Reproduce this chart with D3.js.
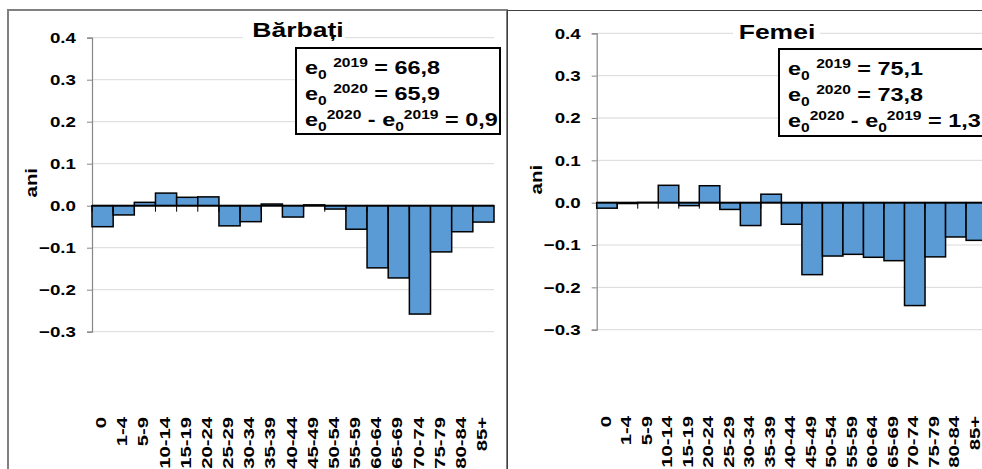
<!DOCTYPE html>
<html>
<head>
<meta charset="utf-8">
<script src="https://cdn.jsdelivr.net/npm/d3@7"></script>
<style>
  body { margin: 0; background: #fff; }
  text { font-family: "Liberation Sans", Arial, sans-serif; font-weight: bold; fill: #000; }
</style>
</head>
<body>
<div id="vis-container"></div>
<script>
// Data
var ageGroups = ["0", "1-4", "5-9", "10-14", "15-19", "20-24", "25-29", "30-34", "35-39", "40-44",
    "45-49", "50-54", "55-59", "60-64", "65-69", "70-74", "75-79", "80-84", "85+"];
var barbatiValues = [-0.050, -0.022, 0.008, 0.030, 0.020, 0.021, -0.048, -0.038, 0.004, -0.027,
    0.002, -0.008, -0.056, -0.148, -0.172, -0.258, -0.110, -0.062, -0.039];
var femeiValues = [-0.013, -0.002, 0.0005, 0.041, -0.007, 0.040, -0.016, -0.054, 0.020, -0.051,
    -0.170, -0.126, -0.122, -0.129, -0.137, -0.243, -0.128, -0.081, -0.089];
var yTicks = [0.4, 0.3, 0.2, 0.1, 0.0, -0.1, -0.2, -0.3];
var titles = ["Bărbați", "Femei"];
var e2019 = ["66,8", "75,1"];
var e2020 = ["65,9", "73,8"];
var eDiff = ["0,9", "1,3"];

var width = 982;
var height = 469;
var stretch = 1.3;   // the reference text is wider than Arial

var svg = d3.select("#vis-container").append("svg")
    .attr("width", width).attr("height", height);

// layout of the two panels
var panels = [
    { values: barbatiValues, box: [8, 10, 499, 470], boxColor: "#808080", boxWidth: 2,
      plotLeft: 92, plotRight: 494, yTop: 37.7, yBottom: 331.7,
      titleX: 298, titleY: 37, titleGap: [243, 345],
      legend: [296, 48, 204, 86], labelTop: 417 },
    { values: femeiValues, box: [507.5, 10.5, 500, 470], boxColor: "#404040", boxWidth: 1,
      plotLeft: 596.7, plotRight: 986.6, yTop: 33.3, yBottom: 329.7,
      titleX: 777, titleY: 39, titleGap: [733, 820],
      legend: [779, 49, 204, 87], labelTop: 416 }
];

panels.forEach(function (p, idx) {
    var g = svg.append("g");

    g.append("rect")
        .attr("x", p.box[0]).attr("y", p.box[1])
        .attr("width", p.box[2]).attr("height", p.box[3])
        .attr("fill", "#fff")
        .attr("stroke", p.boxColor).attr("stroke-width", p.boxWidth);

    var x = d3.scaleBand().domain(ageGroups).range([p.plotLeft, p.plotRight]).padding(0);
    var y = d3.scaleLinear().domain([-0.3, 0.4]).range([p.yBottom, p.yTop]);

    // gridlines
    g.append("g").selectAll("line").data(yTicks.filter(function (d) { return d !== 0; }))
        .join("line")
        .attr("x1", p.plotLeft).attr("x2", p.plotRight)
        .attr("y1", function (d) { return y(d); }).attr("y2", function (d) { return y(d); })
        .attr("stroke", "#d9d9d9").attr("stroke-width", 1);

    // y axis
    var yAxis = d3.axisLeft(y).tickValues(yTicks).tickSize(5).tickFormat("");
    var yAxisG = g.append("g").attr("transform", "translate(" + p.plotLeft + ",0)").call(yAxis);
    yAxisG.select(".domain").attr("stroke", "#868686").attr("stroke-width", 1.2);
    yAxisG.selectAll(".tick line").attr("stroke", "#868686");

    g.append("g").selectAll("text").data(yTicks).join("text")
        .attr("transform", function (d) {
            return "translate(" + (p.plotLeft - 16) + "," + y(d) + ") scale(1.25,1)";
        })
        .attr("dy", "0.36em")
        .attr("text-anchor", "end")
        .style("font-size", "15px")
        .text(function (d) { return d3.format(".1f")(d); });

    // bars
    g.append("g").selectAll("rect").data(p.values).join("rect")
        .attr("x", function (d, i) { return x(ageGroups[i]); })
        .attr("width", x.bandwidth())
        .attr("y", function (d) { return y(Math.max(0, d)); })
        .attr("height", function (d) { return Math.abs(y(d) - y(0)); })
        .attr("fill", "#5b9bd5")
        .attr("stroke", "#000").attr("stroke-width", 1.5);

    // x axis at zero with ticks between categories
    var xAxisG = g.append("g");
    xAxisG.append("line")
        .attr("x1", p.plotLeft).attr("x2", p.plotRight)
        .attr("y1", y(0)).attr("y2", y(0))
        .attr("stroke", "#000").attr("stroke-width", 1.8);
    xAxisG.selectAll(".xtick").data(ageGroups).join("line")
        .attr("class", "xtick")
        .attr("x1", function (d) { return x(d); }).attr("x2", function (d) { return x(d); })
        .attr("y1", y(0)).attr("y2", y(0) + 6)
        .attr("stroke", "#000").attr("stroke-width", 1);

    // category labels (rotated)
    g.append("g").selectAll("text").data(ageGroups).join("text")
        .attr("transform", function (d) {
            return "translate(" + (x(d) + x.bandwidth() / 2 - 1.5) + "," + p.labelTop + ") rotate(-90) scale(1.35,1)";
        })
        .attr("dy", "0.34em")
        .attr("text-anchor", "end")
        .style("font-size", "15px")
        .text(function (d) { return d; });

    // axis title
    g.append("text")
        .attr("transform", "translate(" + (p.plotLeft - 61) + "," + (y(0) - 23) + ") rotate(-90) scale(1.2,1)")
        .attr("dy", "0.36em")
        .attr("text-anchor", "middle")
        .style("font-size", "17px")
        .text("ani");

    // chart title on a white patch
    g.append("rect")
        .attr("x", p.titleGap[0]).attr("y", p.yTop - 12)
        .attr("width", p.titleGap[1] - p.titleGap[0]).attr("height", 20)
        .attr("fill", "#fff");
    g.append("text")
        .attr("transform", "translate(" + p.titleX + "," + p.titleY + ") scale(1.36,1)")
        .attr("text-anchor", "middle")
        .style("font-size", "19.5px")
        .text(titles[idx]);

    // legend box
    var lb = p.legend;
    g.append("rect")
        .attr("x", lb[0]).attr("y", lb[1]).attr("width", lb[2]).attr("height", lb[3])
        .attr("fill", "#fff").attr("stroke", "#000").attr("stroke-width", 2);

    var lines = [
        [["e", 0], ["0", 1], [" ", 0], ["2019", -1], [" = " + e2019[idx], 0]],
        [["e", 0], ["0", 1], [" ", 0], ["2020", -1], [" = " + e2020[idx], 0]],
        [["e", 0], ["0", 1], ["2020", -1], [" - e", 0], ["0", 1], ["2019", -1], [" = " + eDiff[idx], 0]]
    ];
    lines.forEach(function (parts, li) {
        var t = g.append("text")
            .attr("transform", "translate(" + (lb[0] + 9) + "," + (lb[1] + 25.5 + li * 26) + ") scale(" + stretch + ",1)")
            .attr("xml:space", "preserve")
            .style("font-size", "18px");
        var prevShift = 0;
        parts.forEach(function (part) {
            var shift = part[1] === 1 ? 5 : (part[1] === -1 ? -6.5 : 0);
            t.append("tspan")
                .attr("dy", shift - prevShift)
                .style("font-size", part[1] === 0 ? "18px" : "12px")
                .text(part[0]);
            prevShift = shift;
        });
    });
});
</script>
</body>
</html>
